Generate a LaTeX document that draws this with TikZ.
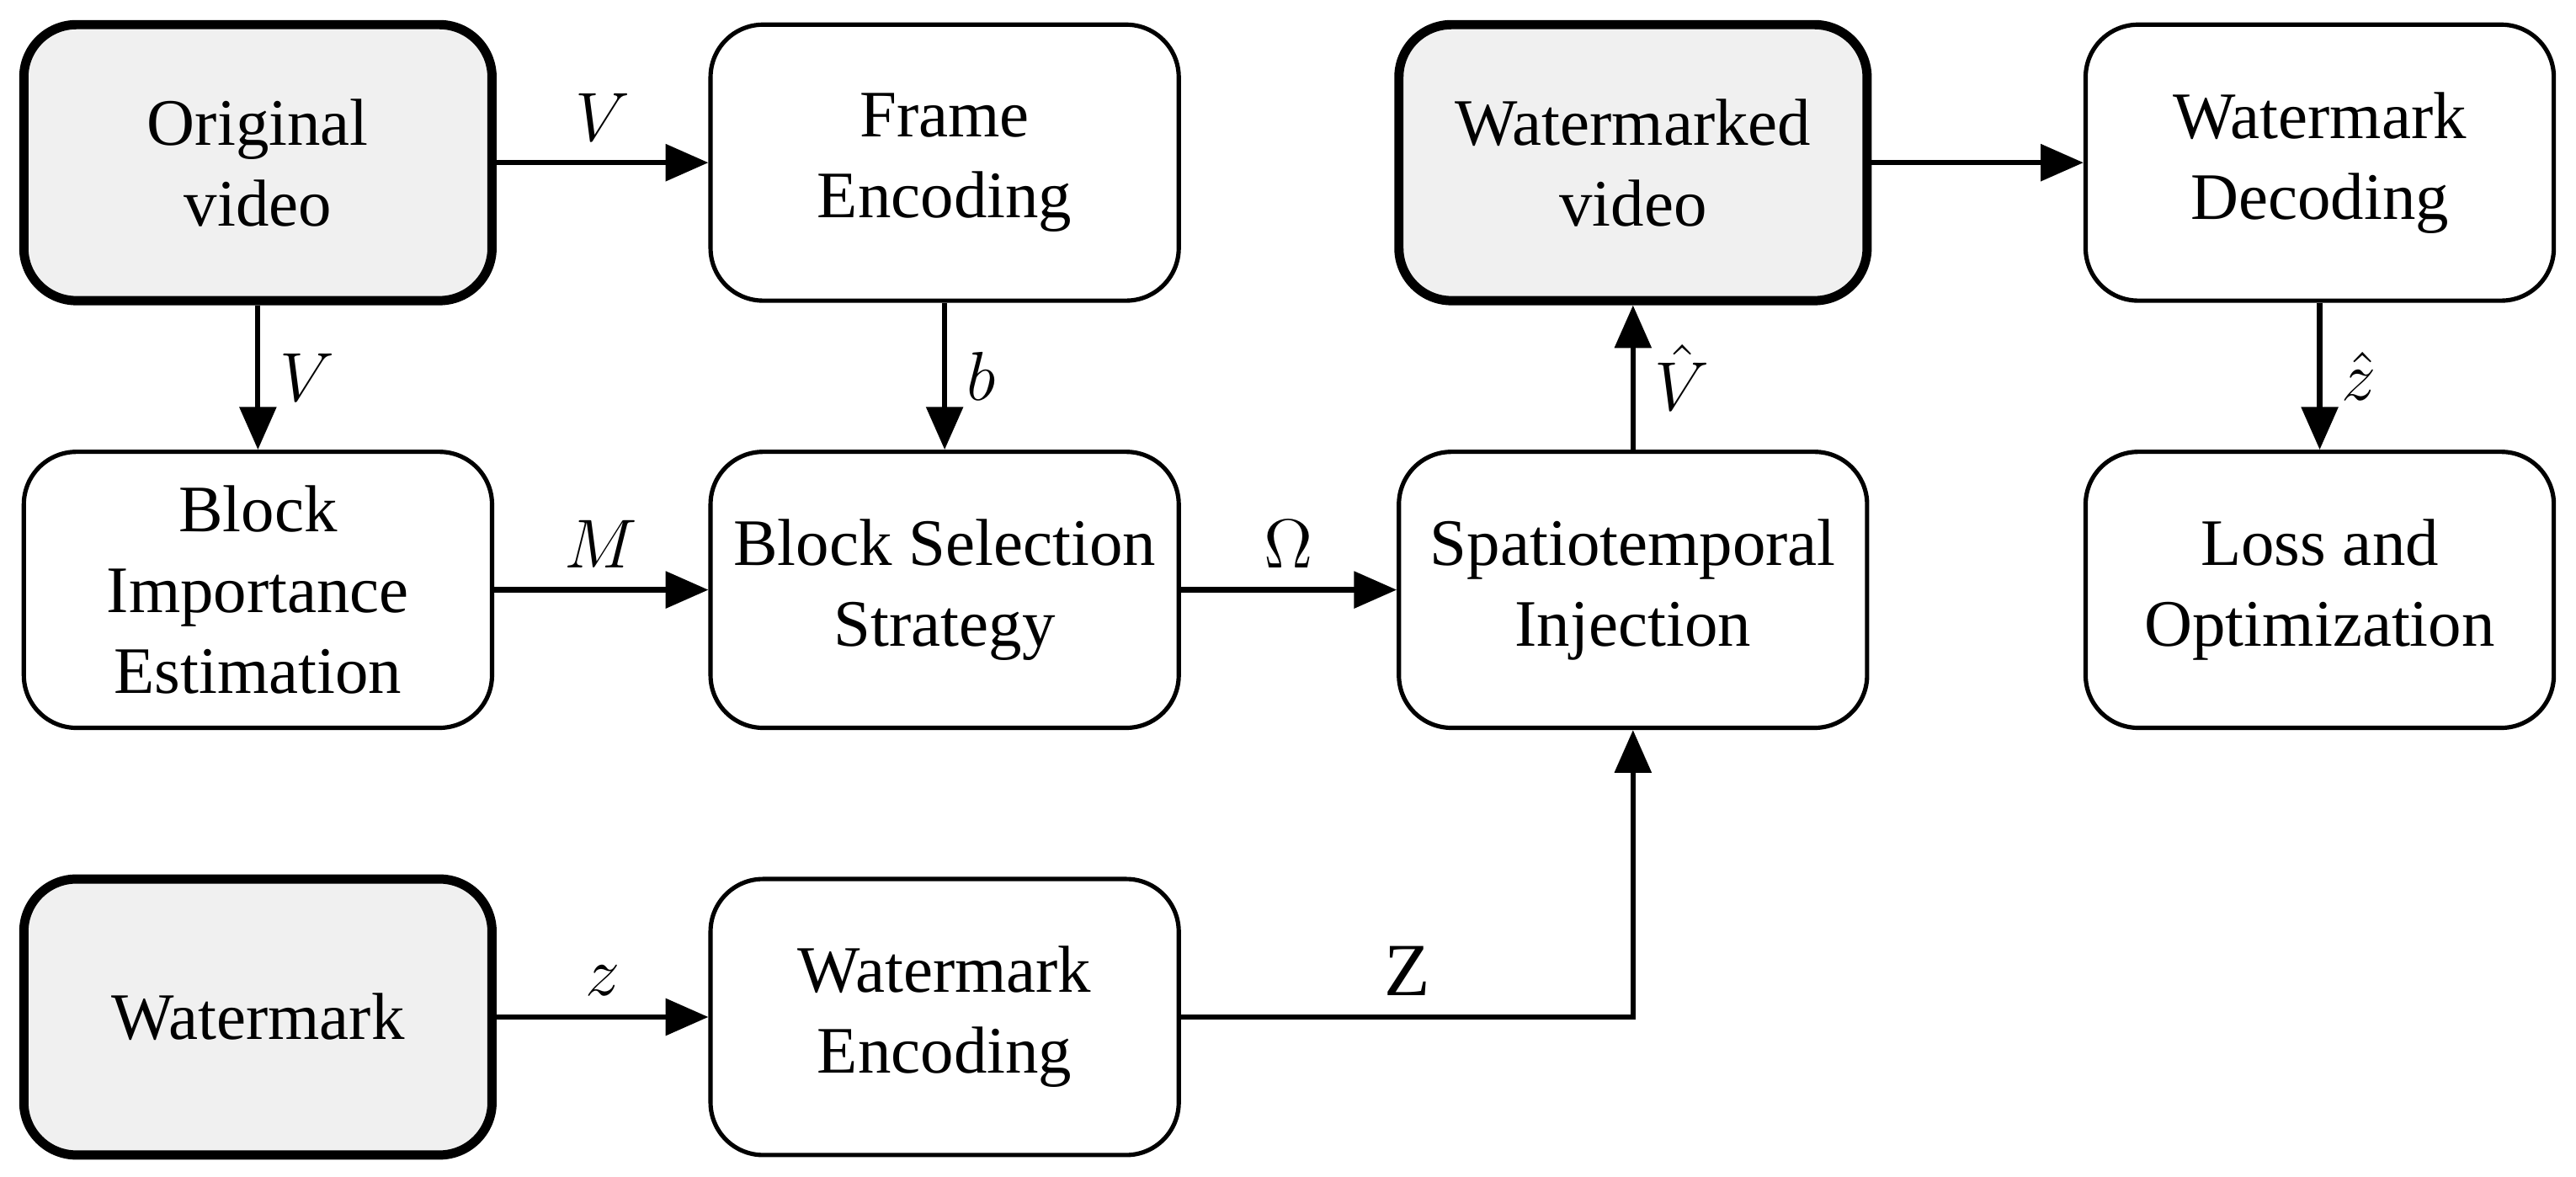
\documentclass[tikz,border=0pt]{standalone}
\usepackage{fontspec}
\setmainfont{Liberation Serif}
\usetikzlibrary{arrows.meta}
\begin{document}
\begin{tikzpicture}[x=0.1mm, y=-0.1mm,
	block/.style={rectangle, rounded corners=3.2mm, draw=black, line width=0.75pt, fill=white,
		minimum width=28.5mm, minimum height=16.8mm, inner sep=0.5mm,
		align=center, font=\fontsize{11.5}{14}\selectfont},
	source/.style={block, line width=1.6pt, fill=black!6},
	flow/.style={-{Triangle[length=2.6mm, width=2.2mm]}, line width=0.9pt},
	lbl/.style={font=\fontsize{13}{15}\selectfont}]
	\useasboundingbox (0, 0) rectangle (1568, 716);

	\node[source] (orig) at (157, 99) {Original\\video};
	\node[block] (frame-enc) at (575, 99) {Frame\\Encoding};
	\node[source] (wm-video) at (994, 99) {Watermarked\\video};
	\node[block] (wm-dec) at (1412, 99) {Watermark\\Decoding};

	\node[block] (importance) at (157, 359) {Block\\Importance\\Estimation};
	\node[block] (selection) at (575, 359) {Block Selection\\Strategy};
	\node[block] (injection) at (994, 359) {Spatiotemporal\\Injection};
	\node[block] (loss) at (1412, 359) {Loss and\\Optimization};

	\node[source] (watermark) at (157, 619) {Watermark};
	\node[block] (wm-enc) at (575, 619) {Watermark\\Encoding};

	\draw[flow] (orig) -- node[lbl, above] {$V$} (frame-enc);
	\draw[flow] (orig) -- node[lbl, right] {$V$} (importance);
	\draw[flow] (frame-enc) -- node[lbl, right] {$b$} (selection);
	\draw[flow] (importance) -- node[lbl, above] {$M$} (selection);
	\draw[flow] (selection) -- node[lbl, above] {$\Omega$} (injection);
	\draw[flow] (injection) -- node[lbl, right] {$\hat{V}$} (wm-video);
	\draw[flow] (wm-video) -- (wm-dec);
	\draw[flow] (wm-dec) -- node[lbl, right] {$\hat{z}$} (loss);
	\draw[flow] (watermark) -- node[lbl, above] {$z$} (wm-enc);
	\draw[flow] (wm-enc) -- node[lbl, above, pos=0.5] {$\mathrm{Z}$} (injection |- wm-enc) -- (injection);
\end{tikzpicture}
\end{document}
